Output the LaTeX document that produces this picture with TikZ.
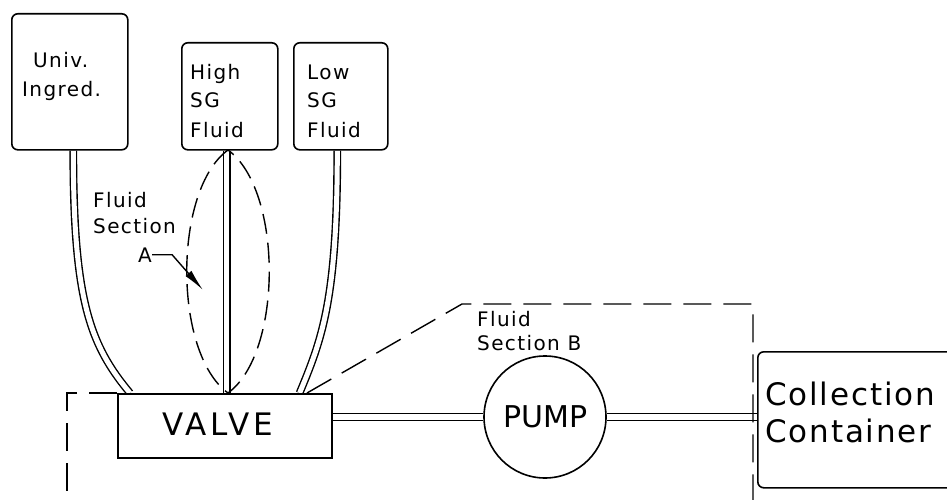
\documentclass[tikz,border=0pt]{standalone}
\usepackage{fontspec}
\setmainfont{DejaVu Sans}[LetterSpace=7]
\newfontfamily\widefont{DejaVu Sans}[LetterSpace=13]
\newfontfamily\midfont{DejaVu Sans}[LetterSpace=6]
\newfontfamily\tightfont{DejaVu Sans}
\usetikzlibrary{arrows.meta,backgrounds}
\tikzset{
  box/.style={draw, line width=1.6pt, rounded corners=6pt, fill=white, inner sep=0pt, anchor=north west},
  pipe/.style={line width=1.4pt, double=white, double distance=5pt},
  pipeh/.style={line width=1.4pt, double=white, double distance=6pt},
  secA/.style={line width=1.4pt, dash pattern=on 20pt off 9pt},
  secB/.style={line width=1.4pt, dash pattern=on 28pt off 12pt},
  sm/.style={font=\fontsize{20}{24}\selectfont, inner sep=0pt, anchor=base west},
  lg/.style={inner sep=0pt, anchor=base west},
}
\begin{document}
\begin{tikzpicture}[x=1pt,y=-1pt]
\useasboundingbox (0,0) rectangle (947,500);
\clip (0,0) rectangle (947,500);
% boxes
\node[box, minimum width=116pt, minimum height=136pt] (univ) at (11,13) {};
\node[box, minimum width=96pt, minimum height=107pt] (high) at (181,42) {};
\node[box, minimum width=94pt, minimum height=107pt] (low) at (293,42) {};
\node[box, sharp corners, minimum width=214pt, minimum height=64pt] (valve) at (117,393) {};
\node[box, minimum width=260pt, minimum height=136pt] (coll) at (757,351) {};
\node[draw, line width=1.6pt, circle, fill=white, minimum size=122pt, inner sep=0pt] (pump) at (545,417) {};
% pipes behind the boxes
\begin{scope}[on background layer]
\draw[pipe] ([xshift=3.5pt]univ.south) .. controls +(0,150) and +(-40,-48) .. ([xshift=13pt]valve.north west);
\draw[pipe] ([xshift=-3pt]high.south) -- ([xshift=-3pt]high.south |- valve.north);
\draw[pipe] ([xshift=-3.5pt]low.south) .. controls +(0,150) and +(22,-53) .. ([xshift=-33pt]valve.north east);
\draw[pipeh] (valve.east |- pump.west) -- (pump.west);
\draw[pipeh] (pump.east) -- (coll.west |- pump.east);
\end{scope}
% fluid section A
\coordinate (tA) at (228,150);
\coordinate (bA) at (228,393);
\draw[secA] (tA) .. controls (173,190) and (173,353) .. (bA) .. controls (283,353) and (283,190) .. (tA);
% fluid section B
\coordinate (bL) at (67,393);
\coordinate (bLd) at (67,505);
\coordinate (bR0) at (307,393);
\coordinate (bR1) at (462,304);
\coordinate (bR2) at (753,304);
\coordinate (bR3) at (753,505);
\draw[secB] (valve.north west) -- (bL) -- (bLd);
\draw[secB] (bR0) -- (bR1) -- (bR2) -- (bR3);
% texts
\node[sm] (u1) at (33,68) {Univ.};
\node[sm] (u2) at (22,97) {Ingred.};
\node[sm] (h1) at (190,80) {High};
\node[sm] (h2) at (190,108) {SG};
\node[sm] (h3) at (190,137) {Fluid};
\node[sm] (l1) at (307,80) {Low};
\node[sm] (l2) at (307,108) {SG};
\node[sm] (l3) at (307,137) {Fluid};
\node[sm] (a1) at (93,207) {Fluid};
\node[sm] (a2) at (93,233) {Section};
\node[sm] (a3) at (138,262) {A};
\node[sm] (b1) at (477,326) {Fluid};
\node[sm] (b2) at (477,350) {Section B};
\node[lg, font=\fontsize{31}{36}\widefont] (vt) at (162,435) {VALVE};
\node[lg, font=\fontsize{30}{36}\tightfont] (pt) at (503,427) {PUMP};
\node[lg, font=\fontsize{31}{36}\midfont] (c1) at (765,405) {Collection};
\node[lg, font=\fontsize{31}{36}\midfont] (c2) at (765,442) {Container};
% leader of A
\coordinate (tipA) at (203,290);
\draw[line width=1.4pt, -{Latex[length=22pt,width=8pt]}] (a3.east) -- ++(20,0) -- (tipA);
\end{tikzpicture}
\end{document}
